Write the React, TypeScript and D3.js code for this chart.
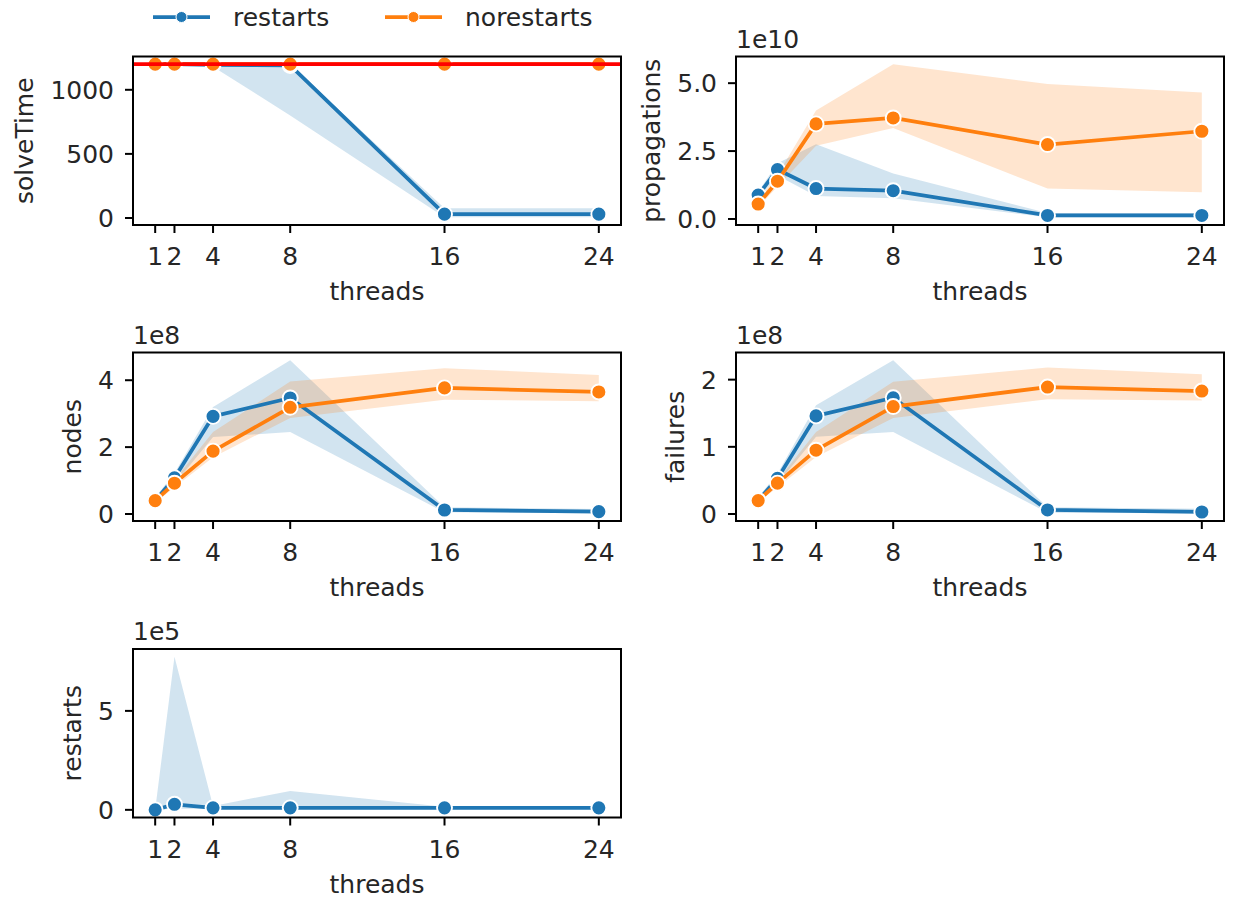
import * as d3 from "d3";
import React, { useEffect, useRef } from "react";

const threads = [1, 2, 4, 8, 16, 24];
const xTicks = [1, 2, 4, 8, 16, 24];

// solveTime (seconds), 1200 = timeout
const solveTimeout = 1200;
const solveRestartsMean = [1200, 1200, 1195, 1190, 30, 30];
const solveRestartsLow = [1200, 1200, 1180, 800, 5, 5];
const solveRestartsHigh = [1200, 1200, 1200, 1200, 75, 75];
const solveNoRestartsMean = [1200, 1200, 1200, 1200, 1200, 1200];
const solveNoRestartsLow = [1200, 1200, 1200, 1200, 1200, 1200];
const solveNoRestartsHigh = [1200, 1200, 1200, 1200, 1200, 1200];
const solveTicks = [0, 500, 1000];

// propagations (x 1e10)
const propRestartsMean = [0.88, 1.82, 1.12, 1.04, 0.13, 0.13];
const propRestartsLow = [0.75, 1.6, 0.85, 0.76, 0.06, 0.06];
const propRestartsHigh = [1.0, 2.05, 2.75, 1.67, 0.22, 0.22];
const propNoRestartsMean = [0.55, 1.39, 3.5, 3.72, 2.74, 3.23];
const propNoRestartsLow = [0.42, 1.2, 2.7, 3.35, 1.12, 0.98];
const propNoRestartsHigh = [0.72, 1.62, 3.99, 5.7, 4.97, 4.66];
const propTicks = [0, 2.5, 5.0];

// nodes (x 1e8)
const nodesRestartsMean = [0.4, 1.08, 2.92, 3.47, 0.12, 0.07];
const nodesRestartsLow = [0.3, 0.9, 2.3, 2.45, 0.05, 0.02];
const nodesRestartsHigh = [0.5, 1.22, 3.2, 4.6, 0.2, 0.15];
const nodesNoRestartsMean = [0.4, 0.92, 1.88, 3.19, 3.77, 3.65];
const nodesNoRestartsLow = [0.33, 0.8, 1.7, 2.87, 3.42, 3.37];
const nodesNoRestartsHigh = [0.47, 1.02, 2.45, 3.96, 4.36, 4.16];
const nodesTicks = [0, 2, 4];

// failures (x 1e8)
const failRestartsMean = [0.2, 0.53, 1.46, 1.73, 0.06, 0.03];
const failRestartsLow = [0.15, 0.45, 1.15, 1.22, 0.02, 0.01];
const failRestartsHigh = [0.25, 0.6, 1.62, 2.29, 0.1, 0.08];
const failNoRestartsMean = [0.2, 0.46, 0.95, 1.6, 1.89, 1.83];
const failNoRestartsLow = [0.17, 0.4, 0.85, 1.43, 1.71, 1.69];
const failNoRestartsHigh = [0.23, 0.5, 1.22, 1.97, 2.18, 2.08];
const failTicks = [0, 1, 2];

// restarts (x 1e5), only the restarts run has any
const rstMean = [0, 0.28, 0.1, 0.1, 0.1, 0.1];
const rstLow = [0, 0.05, 0.05, 0.05, 0.05, 0.05];
const rstHigh = [0, 7.74, 0.2, 0.95, 0.15, 0.15];
const rstTicks = [0, 5];

const BLUE = "#1f77b4";
const ORANGE = "#ff7f0e";
const FONT = "DejaVu Sans, sans-serif";
const FS = 25;

const COL_X = [133, 736];
const ROW_Y = [56.5, 352.5, 649];
const BOX_W = 488;
const BOX_H = 168.5;

const mk = (name, color, mean, low, high) => ({ name, color, mean, low, high });

const panels = [
  {
    label: "solveTime", offset: "", col: 0, row: 0, ticks: solveTicks, fmt: d3.format("d"), hline: solveTimeout,
    series: [
      mk("restarts", BLUE, solveRestartsMean, solveRestartsLow, solveRestartsHigh),
      mk("norestarts", ORANGE, solveNoRestartsMean, solveNoRestartsLow, solveNoRestartsHigh),
    ],
  },
  {
    label: "propagations", offset: "1e10", col: 1, row: 0, ticks: propTicks, fmt: d3.format(".1f"),
    series: [
      mk("restarts", BLUE, propRestartsMean, propRestartsLow, propRestartsHigh),
      mk("norestarts", ORANGE, propNoRestartsMean, propNoRestartsLow, propNoRestartsHigh),
    ],
  },
  {
    label: "nodes", offset: "1e8", col: 0, row: 1, ticks: nodesTicks, fmt: d3.format("d"),
    series: [
      mk("restarts", BLUE, nodesRestartsMean, nodesRestartsLow, nodesRestartsHigh),
      mk("norestarts", ORANGE, nodesNoRestartsMean, nodesNoRestartsLow, nodesNoRestartsHigh),
    ],
  },
  {
    label: "failures", offset: "1e8", col: 1, row: 1, ticks: failTicks, fmt: d3.format("d"),
    series: [
      mk("restarts", BLUE, failRestartsMean, failRestartsLow, failRestartsHigh),
      mk("norestarts", ORANGE, failNoRestartsMean, failNoRestartsLow, failNoRestartsHigh),
    ],
  },
  {
    label: "restarts", offset: "1e5", col: 0, row: 2, ticks: rstTicks, fmt: d3.format("d"),
    series: [mk("restarts", BLUE, rstMean, rstLow, rstHigh)],
  },
];

const legendItems = [
  { name: "restarts", color: BLUE },
  { name: "norestarts", color: ORANGE },
];

export default function App() {
  const svgRef = useRef<SVGSVGElement>(null);

  useEffect(() => {
    const svg = d3.select(svgRef.current);
    svg.selectAll("*").remove();

    const xPad = 0.05 * (d3.max(threads) - d3.min(threads));
    const x = d3
      .scaleLinear()
      .domain([d3.min(threads) - xPad, d3.max(threads) + xPad])
      .range([0, BOX_W]);

    panels.forEach((p, pi) => {
      const all = p.series.flatMap((s) => [...s.mean, ...s.low, ...s.high]);
      const lo = d3.min(all);
      const hi = d3.max(all);
      const pad = 0.05 * (hi - lo);
      const y = d3.scaleLinear().domain([lo - pad, hi + pad]).range([BOX_H, 0]);

      const g = svg
        .append("g")
        .attr("transform", `translate(${COL_X[p.col]},${ROW_Y[p.row]})`);

      g.append("clipPath")
        .attr("id", `clip-${pi}`)
        .append("rect")
        .attr("width", BOX_W)
        .attr("height", BOX_H);

      const plot = g.append("g").attr("clip-path", `url(#clip-${pi})`);

      const area = d3
        .area<number>()
        .x((_, i) => x(threads[i]))
        .y0((d) => y(d));

      // bands first (zorder 1), lines after
      p.series.forEach((s) => {
        plot
          .append("path")
          .datum(s.low)
          .attr("fill", s.color)
          .attr("fill-opacity", 0.2)
          .attr("stroke", "none")
          .attr(
            "d",
            area.y1((_, i) => y(s.high[i]))
          );
      });

      const line = d3
        .line<number>()
        .x((_, i) => x(threads[i]))
        .y((d) => y(d));

      p.series.forEach((s) => {
        plot
          .append("path")
          .datum(s.mean)
          .attr("fill", "none")
          .attr("stroke", s.color)
          .attr("stroke-width", 3.75)
          .attr("stroke-linejoin", "round")
          .attr("d", line);
        plot
          .selectAll(null)
          .data(s.mean)
          .join("circle")
          .attr("cx", (_, i) => x(threads[i]))
          .attr("cy", (d) => y(d))
          .attr("r", 7.5)
          .attr("fill", s.color)
          .attr("stroke", "white")
          .attr("stroke-width", 1.9);
      });

      if (p.hline !== undefined) {
        plot
          .append("line")
          .attr("x1", 0)
          .attr("x2", BOX_W)
          .attr("y1", y(p.hline))
          .attr("y2", y(p.hline))
          .attr("stroke", "red")
          .attr("stroke-width", 3.75);
      }

      // spines
      g.append("rect")
        .attr("width", BOX_W)
        .attr("height", BOX_H)
        .attr("fill", "none")
        .attr("stroke", "black")
        .attr("stroke-width", 2);

      // x ticks
      const xt = g.append("g");
      xt.selectAll("line")
        .data(xTicks)
        .join("line")
        .attr("x1", (d) => x(d))
        .attr("x2", (d) => x(d))
        .attr("y1", BOX_H)
        .attr("y2", BOX_H + 8)
        .attr("stroke", "black")
        .attr("stroke-width", 2);
      xt.selectAll("text")
        .data(xTicks)
        .join("text")
        .attr("x", (d) => x(d))
        .attr("y", BOX_H + 40)
        .attr("text-anchor", "middle")
        .attr("font-family", FONT)
        .attr("font-size", FS)
        .attr("fill", "#262626")
        .text((d) => d);

      g.append("text")
        .attr("x", BOX_W / 2)
        .attr("y", BOX_H + 75)
        .attr("text-anchor", "middle")
        .attr("font-family", FONT)
        .attr("font-size", FS)
        .attr("fill", "#262626")
        .text("threads");

      // y ticks
      const yt = g.append("g");
      yt.selectAll("line")
        .data(p.ticks)
        .join("line")
        .attr("x1", 0)
        .attr("x2", -8)
        .attr("y1", (d) => y(d))
        .attr("y2", (d) => y(d))
        .attr("stroke", "black")
        .attr("stroke-width", 2);
      const labels = yt
        .selectAll("text")
        .data(p.ticks)
        .join("text")
        .attr("x", -19)
        .attr("y", (d) => y(d))
        .attr("dy", "0.36em")
        .attr("text-anchor", "end")
        .attr("font-family", FONT)
        .attr("font-size", FS)
        .attr("fill", "#262626")
        .text((d) => p.fmt(d));

      let minX = 0;
      labels.each(function () {
        const b = (this as SVGTextElement).getBBox();
        minX = Math.min(minX, b.x);
      });

      const lx = minX - 17;
      g.append("text")
        .attr("transform", `translate(${lx},${BOX_H / 2}) rotate(-90)`)
        .attr("text-anchor", "middle")
        .attr("font-family", FONT)
        .attr("font-size", FS)
        .attr("fill", "#262626")
        .text(p.label);

      if (p.offset) {
        g.append("text")
          .attr("x", 0)
          .attr("y", -9)
          .attr("font-family", FONT)
          .attr("font-size", FS)
          .attr("fill", "#262626")
          .text(p.offset);
      }
    });

    // legend above the first panel
    const legend = svg.append("g").attr("transform", "translate(153,17)");
    const legendX = d3.scalePoint<string>().domain(legendItems.map((d) => d.name)).range([0, 232]);
    legendItems.forEach((it) => {
      const lg = legend.append("g").attr("transform", `translate(${legendX(it.name)},0)`);
      lg.append("line")
        .attr("x1", 0)
        .attr("x2", 57)
        .attr("stroke", it.color)
        .attr("stroke-width", 3.75);
      lg.append("circle")
        .attr("cx", 28.5)
        .attr("r", 5.5)
        .attr("fill", it.color)
        .attr("stroke", "white")
        .attr("stroke-width", 1);
      lg.append("text")
        .attr("x", 80)
        .attr("dy", "0.36em")
        .attr("font-family", FONT)
        .attr("font-size", FS)
        .attr("fill", "#262626")
        .text(it.name);
    });
  }, []);

  return (
    <svg
      ref={svgRef}
      width={1236}
      height={898}
      style={{ position: "absolute", left: 0, top: 0, background: "white" }}
    />
  );
}
